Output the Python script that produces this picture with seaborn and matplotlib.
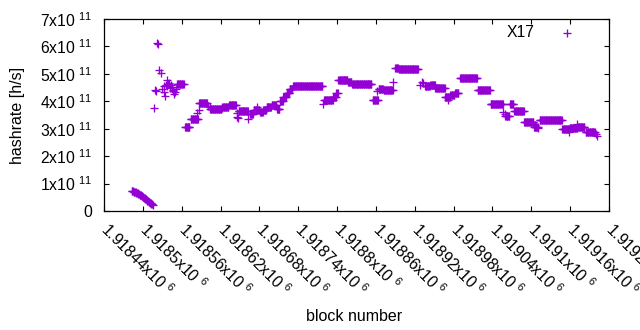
import numpy as np
import pandas as pd
import matplotlib
matplotlib.use('Agg')
import matplotlib.pyplot as plt
import seaborn as sns

# hashrate in units of 1e11 h/s
curve_start = 1918483
curve_vals = [0.74, 0.73, 0.72, 0.71, 0.70, 0.69, 0.68, 0.67, 0.66, 0.64, 0.63,
              0.62, 0.60, 0.59, 0.57, 0.55, 0.54, 0.52, 0.50, 0.48, 0.46, 0.44,
              0.42, 0.40, 0.38, 0.36, 0.34, 0.32, 0.30, 0.28, 0.26, 0.24, 0.22]

# flat stretches: first block, last block, value
run_from = [1918553, 1918565, 1918574, 1918587, 1918604, 1918623, 1918633, 1918648,
            1918665, 1918671, 1918681, 1918686, 1918691, 1918699, 1918707, 1918712,
            1918717, 1918722, 1918727, 1918732, 1918780, 1918794, 1918799, 1918802,
            1918817, 1918823, 1918855, 1918864, 1918872, 1918890, 1918895, 1918936,
            1918944, 1918952, 1918967, 1918975, 1918982, 1918990, 1919017, 1919037,
            1919060, 1919067, 1919074, 1919089, 1919104, 1919113, 1919148, 1919159,
            1919172, 1919184]
run_to = [1918563, 1918572, 1918585, 1918599, 1918621, 1918632, 1918644, 1918662,
          1918670, 1918680, 1918685, 1918690, 1918698, 1918706, 1918711, 1918716,
          1918721, 1918726, 1918731, 1918777, 1918793, 1918798, 1918801, 1918816,
          1918822, 1918853, 1918863, 1918871, 1918886, 1918894, 1918925, 1918943,
          1918951, 1918966, 1918974, 1918981, 1918987, 1919016, 1919036, 1919056,
          1919066, 1919072, 1919088, 1919103, 1919110, 1919147, 1919158, 1919171,
          1919182, 1919198]
run_val = [4.62, 3.06, 3.34, 3.93, 3.72, 3.80, 3.87, 3.65,
           3.55, 3.69, 3.60, 3.68, 3.80, 3.85, 3.72, 4.00,
           4.15, 4.30, 4.45, 4.56, 4.05, 4.16, 4.30, 4.79,
           4.71, 4.64, 4.06, 4.45, 4.42, 5.20, 5.17, 4.54,
           4.60, 4.48, 4.17, 4.24, 4.31, 4.84, 4.41, 3.89,
           3.45, 3.89, 3.63, 3.23, 3.07, 3.31, 2.99, 3.03,
           3.05, 2.88]

# scattered single blocks
pt_block = [1918517, 1918519, 1918520, 1918522, 1918523, 1918525, 1918528, 1918529,
            1918532, 1918533, 1918534, 1918535, 1918537, 1918538, 1918539, 1918540,
            1918542, 1918543, 1918545, 1918546, 1918547, 1918548, 1918550, 1918551,
            1918583, 1918586, 1918601, 1918603, 1918622, 1918645, 1918646, 1918647,
            1918663, 1918676, 1918779, 1918861, 1918887, 1918928, 1918931, 1918933,
            1918971, 1919057, 1919059, 1919106, 1919111, 1919158, 1919170, 1919200,
            1919201]
pt_val = [3.77, 4.41, 4.37, 6.12, 6.10, 5.14, 5.02, 4.45,
          4.35, 4.57, 4.20, 4.60, 4.78, 4.55, 4.62, 4.68,
          4.47, 4.58, 4.53, 4.42, 4.37, 4.25, 4.33, 4.45,
          3.56, 3.68, 3.82, 3.78, 3.76, 3.44, 3.56, 3.40,
          3.35, 3.78, 3.89, 4.36, 4.72, 4.59, 4.71, 4.65,
          4.05, 3.62, 3.55, 3.13, 3.01, 2.87, 3.17, 2.80,
          2.74]

xticks = list(range(1918440, 1919221, 60))
yticks = [0, 1e11, 2e11, 3e11, 4e11, 5e11, 6e11, 7e11]

blocks = list(range(curve_start, curve_start + len(curve_vals)))
vals = list(curve_vals)
for a, b, v in zip(run_from, run_to, run_val):
    for blk in range(a, b + 1):
        blocks.append(blk)
        vals.append(v)
blocks += pt_block
vals += pt_val

df = pd.DataFrame({'block': blocks, 'hashrate': np.array(vals) * 1e11})

plt.rcParams['font.family'] = ['Liberation Sans', 'DejaVu Sans']
plt.rcParams['mathtext.default'] = 'regular'
plt.rcParams['font.size'] = 11.3

fig = plt.figure(figsize=(6.4, 3.3), dpi=100)
ax = fig.add_axes([104 / 640, 1 - 211 / 330, 505 / 640, 192 / 330])

sns.scatterplot(data=df, x='block', y='hashrate', marker='+', color='#9400d3',
                s=30, linewidth=0.95, label='X17', ax=ax)

ax.set_xlim(1918440, 1919220)
ax.set_ylim(0, 7e11)
ax.set_xticks(xticks)
ax.set_xticklabels([f'{t / 1e6:g}x10 $^{{6}}$' for t in xticks],
                   rotation=-45, rotation_mode='anchor', ha='left', va='center')
ax.set_yticks(yticks)
ax.set_yticklabels(['0'] + [f'{int(t / 1e11)}x10 $^{{11}}$' for t in yticks[1:]])
ax.tick_params(direction='in', length=3.3, width=0.8, top=True, right=True,
               labelsize=11.3, colors='black')
ax.tick_params(axis='x', pad=11)
ax.tick_params(axis='y', pad=8.5)
for sp in ax.spines.values():
    sp.set_linewidth(0.9)

ax.set_xlabel('block number', fontsize=11.5)
ax.xaxis.set_label_coords(250 / 505, -98 / 192)
ax.xaxis.label.set_va('top')
ax.set_ylabel('hashrate [h/s]', fontsize=11.5)
ax.yaxis.set_label_coords(-79 / 505, 0.5)

ax.legend(loc='upper right', bbox_to_anchor=(0.961, 1.002), borderaxespad=0,
          frameon=False, markerfirst=False, handletextpad=1.1, fontsize=11.3)

fig.savefig('out.png', dpi=100)
